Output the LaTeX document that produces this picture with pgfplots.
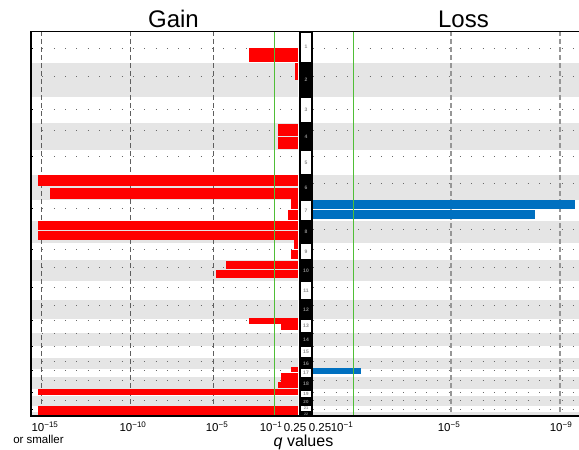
\documentclass[border=0pt]{standalone}
\usepackage{pgfplots}
\pgfplotsset{compat=1.18}
\usepackage{fontspec}
\setmainfont{Liberation Sans}
\definecolor{gainred}{RGB}{255,0,0}
\definecolor{lossblue}{RGB}{0,112,192}
\definecolor{band}{RGB}{229,229,229}
\definecolor{thr}{RGB}{80,190,55}
\definecolor{dashA}{RGB}{95,95,95}
\definecolor{dashB}{RGB}{150,150,150}
\definecolor{dotc}{RGB}{105,105,105}
\definecolor{chrnum}{RGB}{140,140,140}
% rectangle: colour, x-left, x-right, y-top, y-bottom
\newcommand{\rect}[5]{\addplot[fill=#1, draw=none] coordinates {(#2,#4) (#3,#4) (#3,#5) (#2,#5)};}
\newcommand{\gain}[3]{\rect{gainred}{#1}{298}{#2}{#3}}
\newcommand{\loss}[3]{\rect{lossblue}{313}{#1}{#2}{#3}}
\newcommand{\chr}[3]{\node[text=chrnum, font=\fontsize{#3}{#3}\selectfont\bfseries, inner sep=0pt] at (axis cs:306,#1) {#2};}
\begin{document}
\begin{tikzpicture}
\begin{axis}[
  at={(31pt,-416pt)}, anchor=south west,
  scale only axis, width=548pt, height=385pt,
  xmin=31, xmax=579, ymin=31, ymax=416, y dir=reverse,
  clip=false,
  axis x line*=bottom, axis y line*=left,
  axis line style={draw=none},
  xtick={45,133,217,271,295,320,342,449,561},
  xticklabels={10\textsuperscript{−15},10\textsuperscript{−10},10\textsuperscript{−5},10\textsuperscript{−1},0.25,0.25,10\textsuperscript{−1},10\textsuperscript{−5},10\textsuperscript{−9}},
  xtick style={draw=none},
  xticklabel style={anchor=base, yshift=-15.7pt, inner sep=0pt, font=\fontsize{11.5}{13}\selectfont},
  ytick={48,76,109,130,156,183,208,229,249,267,287,305,320,333,346,361,370,380,392,400,409},
  yticklabels={},
  tick align=inside, major tick length=2.5pt,
  ytick style={black, line width=0.8pt},
  xlabel={\textit{q} values},
  xlabel style={at={(axis cs:303.5,416)}, anchor=base, yshift=-30pt, inner sep=0pt, font=\fontsize{16}{19}\selectfont},
]
% grey bands (even chromosomes), gain and loss panels
\rect{band}{31}{298}{63}{97}
\rect{band}{31}{298}{123}{150}
\rect{band}{31}{298}{175}{200}
\rect{band}{31}{298}{221}{243}
\rect{band}{31}{298}{260}{281}
\rect{band}{31}{298}{300}{319}
\rect{band}{31}{298}{333}{346}
\rect{band}{31}{298}{358}{369}
\rect{band}{31}{298}{377}{389}
\rect{band}{31}{298}{396}{406}
\rect{band}{31}{298}{411.5}{416}
\rect{band}{313}{579}{63}{97}
\rect{band}{313}{579}{123}{150}
\rect{band}{313}{579}{175}{200}
\rect{band}{313}{579}{221}{243}
\rect{band}{313}{579}{260}{281}
\rect{band}{313}{579}{300}{319}
\rect{band}{313}{579}{333}{346}
\rect{band}{313}{579}{358}{369}
\rect{band}{313}{579}{377}{389}
\rect{band}{313}{579}{396}{406}
\rect{band}{313}{579}{411.5}{416}
% dotted centromere rows
\pgfplotsinvokeforeach{48,76,109,130,156,183,208,229,249,267,287,305,320,333,346,361,370,380,392,400,409}{
  \addplot[dotc, line width=1pt, dash pattern=on 1pt off 10.3pt] coordinates {(42.5,#1) (298,#1)};
  \addplot[dotc, line width=1pt, dash pattern=on 1pt off 10.3pt] coordinates {(313,#1) (578,#1)};
}
% dashed reference lines
\pgfplotsinvokeforeach{42,130,213.5}{
  \addplot[dashA, line width=1pt, dash pattern=on 5pt off 3pt] coordinates {(#1,31) (#1,416)};
}
\pgfplotsinvokeforeach{451,560}{
  \addplot[dashB, line width=1.3pt, dash pattern=on 5pt off 3pt] coordinates {(#1,31) (#1,416)};
}
% gain q-value segments (left end, top, bottom)
\gain{249}{48}{62}
\gain{295}{63}{80}
\gain{278}{124}{136}
\gain{278}{137}{149}
\gain{38}{175}{186}
\gain{50}{187.5}{199}
\gain{291}{198.5}{209}
\gain{288}{210}{220}
\gain{38}{221}{230}
\gain{38}{231}{240}
\gain{294}{239.5}{249}
\gain{291}{250}{259}
\gain{226}{261}{269}
\gain{216}{270}{278}
\gain{249}{318}{323.5}
\gain{281}{323.5}{330}
\gain{291}{367}{371.5}
\gain{281}{373}{382}
\gain{278}{381.5}{388}
\gain{38}{389}{395}
\gain{38}{405.5}{416}
% loss q-value segments (right end, top, bottom)
\loss{575}{200}{209}
\loss{535}{210}{219}
\loss{361}{367.5}{373.5}
% significance thresholds
\addplot[draw=thr, line width=1.4pt] coordinates {(274.5,31) (274.5,416)};
\addplot[draw=thr, line width=1.4pt] coordinates {(353.5,31) (353.5,416)};
% chromosome strip
\rect{black}{299}{313}{31}{416}
\rect{white}{301}{311}{32.5}{61.5}
\rect{white}{301}{311}{98}{122}
\rect{white}{301}{311}{151}{174}
\rect{white}{301}{311}{201}{220}
\rect{white}{301}{311}{244}{259}
\rect{white}{301}{311}{282}{299}
\rect{white}{301}{311}{320}{332}
\rect{white}{301}{311}{347}{357}
\rect{white}{301}{311}{369}{377}
\rect{white}{301}{311}{390.5}{396.5}
\rect{white}{301}{311}{406}{411}
\chr{47}{1}{5}
\chr{80}{2}{5}
\chr{110}{3}{5}
\chr{136.5}{4}{5}
\chr{162.5}{5}{5}
\chr{187.5}{6}{5}
\chr{210.5}{7}{5}
\chr{232}{8}{5}
\chr{251.5}{9}{5}
\chr{270.5}{10}{5}
\chr{290.5}{11}{5}
\chr{309.5}{12}{5}
\chr{326}{13}{5}
\chr{339.5}{14}{5}
\chr{352}{15}{5}
\chr{363.5}{16}{5}
\chr{373}{17}{5}
\chr{383.5}{18}{5}
\chr{393.5}{19}{4.5}
\chr{401.5}{20}{4.5}
\chr{408.5}{21}{4}
\chr{414}{22}{3.5}
% frame
\draw[black, line width=1.8pt] (axis cs:31,31) -- (axis cs:31,417);
\draw[black, line width=1pt] (axis cs:31,31) -- (axis cs:579,31);
\draw[black, line width=1.6pt] (axis cs:30.1,416) -- (axis cs:579,416);
% titles and extra label text
\node[anchor=base, inner sep=0pt, font=\fontsize{24}{28}\selectfont] at (axis cs:173.5,27) {Gain};
\node[anchor=base, inner sep=0pt, font=\fontsize{24}{28}\selectfont] at (axis cs:463.5,27) {Loss};
\node[anchor=base, inner sep=0pt, font=\fontsize{11.5}{13}\selectfont] at (axis cs:38.5,443.5) {or smaller};
\end{axis}
\pgfresetboundingbox
\path[use as bounding box] (0pt,0pt) rectangle (579pt,-450pt);
\end{tikzpicture}
\end{document}
